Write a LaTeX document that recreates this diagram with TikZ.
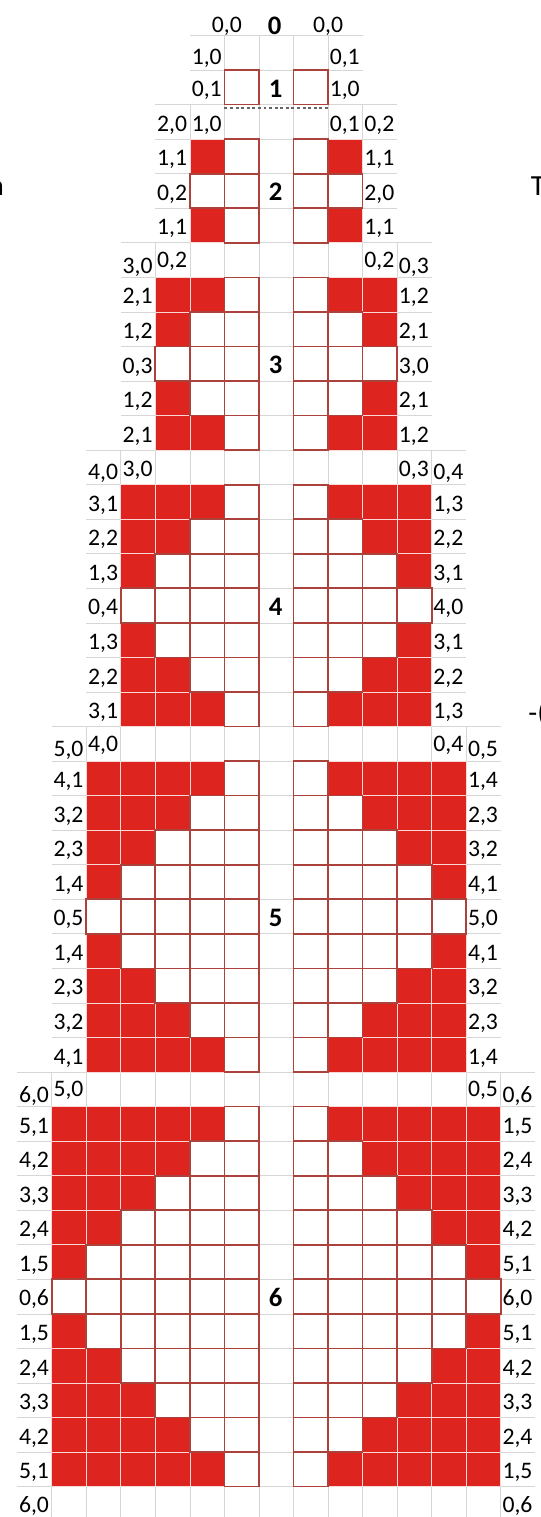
\documentclass[tikz,border=0pt]{standalone}
\usepackage{fontspec}
\setmainfont{Carlito}
\usetikzlibrary{calc}

\definecolor{cellred}{RGB}{221,36,30}
\definecolor{boxred}{RGB}{172,66,60}
\definecolor{gridgray}{RGB}{214,214,214}

\tikzset{
 lab/.style={font=\fontsize{19.5}{21}\selectfont, inner sep=0pt, outer sep=0pt},
 levnum/.style={font=\fontsize{22}{24}\selectfont\bfseries, inner sep=0pt, outer sep=0pt},
 cuttext/.style={font=\fontsize{24}{26}\selectfont, inner sep=0pt, outer sep=0pt},
 redcell/.style={fill=cellred, draw=white!82!cellred, line width=0.6pt},
 whitecell/.style={fill=white, draw=boxred, line width=1.4pt},
 gridline/.style={gridgray, line width=0.6pt},
}

\begin{document}
\begin{tikzpicture}
\useasboundingbox (-7.496,0.029) rectangle (8.162,-43.88);

% spreadsheet grid, one block per level
\foreach \n/\ra/\rb in {1/1/2, 2/3/6, 3/7/12, 4/13/20, 5/21/30, 6/31/43} {
  \pgfmathtruncatemacro\cmin{-\n}
  \pgfmathtruncatemacro\cmax{\n+1}
  \foreach \r in {\ra,...,\rb} {
    \draw[gridline] (-\n-1,-\r) -- (\n+2,-\r);
  }
  \draw[gridline] (-\n-1,-\rb-1) -- (\n+2,-\rb-1);
  \foreach \c in {\cmin,...,\cmax} {
    \draw[gridline] (\c,-\ra) -- (\c,-\rb-1);
  }
}

% filled cells
\foreach \n/\s in {1/2, 2/4, 3/8, 4/14, 5/22, 6/32} {
  \pgfmathtruncatemacro\last{2*\n-2}
  \foreach \i in {0,...,\last} {
    \pgfmathtruncatemacro\a{abs(\n-1-\i)}
    \pgfmathtruncatemacro\r{\s+\i}
    \foreach \k in {1,...,\n} {
      \ifnum\k>\a\relax\else
        \draw[redcell] (-\n+\k-1,-\r) rectangle ++(1,-1);
        \draw[redcell] (\n-\k+1,-\r) rectangle ++(1,-1);
      \fi
    }
  }
}

% empty cells
\foreach \n/\s in {1/2, 2/4, 3/8, 4/14, 5/22, 6/32} {
  \pgfmathtruncatemacro\last{2*\n-2}
  \foreach \i in {0,...,\last} {
    \pgfmathtruncatemacro\a{abs(\n-1-\i)}
    \pgfmathtruncatemacro\r{\s+\i}
    \foreach \k in {1,...,\n} {
      \ifnum\k>\a\relax
        \draw[whitecell] (-\n+\k-1,-\r) rectangle ++(1,-1);
        \draw[whitecell] (\n-\k+1,-\r) rectangle ++(1,-1);
      \fi
    }
  }
}

\draw[gray!80!black, line width=1pt, dash pattern=on 2.4pt off 2.2pt] (-1,-3.1) -- (2,-3.1);

% row labels
\foreach \n/\s in {1/2, 2/4, 3/8, 4/14, 5/22, 6/32} {
  \pgfmathtruncatemacro\last{2*\n-2}
  \foreach \i in {0,...,\last} {
    \pgfmathtruncatemacro\a{abs(\n-1-\i)}
    \pgfmathtruncatemacro\b{\n-\a}
    \pgfmathtruncatemacro\r{\s+\i}
    \node[lab, anchor=base east] (labL-\r) at (-\n-0.08,-\r-0.77) {\a,\b};
    \node[lab, anchor=base west] (labR-\r) at (\n+1.05,-\r-0.77) {\b,\a};
  }
}

% labels of the rows between the levels
\foreach \r/\c/\t/\dy in {1/-2/{1,0}/0.15, 3/-3/{2,0}/0.22, 3/-2/{1,0}/0.22, 7/-4/{3,0}/0.12, 7/-3/{0,2}/0.3,
  13/-5/{4,0}/0.15, 13/-4/{3,0}/0.25, 21/-6/{5,0}/0.12, 21/-5/{4,0}/0.28, 31/-7/{6,0}/0.13, 31/-6/{5,0}/0.3, 43/-7/{6,0}/0.24} {
  \node[lab, anchor=base east] (hdL-\r\c) at (\c+0.92,-\r-1+\dy) {\t};
}
\foreach \r/\c/\t/\dy in {1/2/{0,1}/0.15, 3/2/{0,1}/0.22, 3/3/{0,2}/0.22, 7/3/{0,2}/0.3, 7/4/{0,3}/0.12,
  13/4/{0,3}/0.25, 13/5/{0,4}/0.15, 21/5/{0,4}/0.28, 21/6/{0,5}/0.12, 31/6/{0,5}/0.3, 31/7/{0,6}/0.13, 43/7/{0,6}/0.24} {
  \node[lab, anchor=base west] (hdR-\r\c) at (\c+0.05,-\r-1+\dy) {\t};
}

% top row
\node[lab, anchor=base] (topL) at (-0.93,-0.9) {0,0};
\node[levnum, anchor=base] (top0) at (0.45,-0.98) {0};
\node[lab, anchor=base] (topR) at (2.0,-0.9) {0,0};

% level numbers
\foreach \n/\r in {1/2, 2/5, 3/10, 4/17, 5/26, 6/37} {
  \node[levnum, anchor=base] (lev-\n) at (0.48,-\r-0.78) {\n};
}

% text cut by the page edge
\node[cuttext, anchor=base east] (cutL) at (-7.38,-5.62) {n};
\node[cuttext, anchor=base west] (cutR) at (7.87,-5.62) {T};
\node[cuttext, anchor=base west] (cutM) at (7.8,-20.87) {-(};

\end{tikzpicture}
\end{document}
